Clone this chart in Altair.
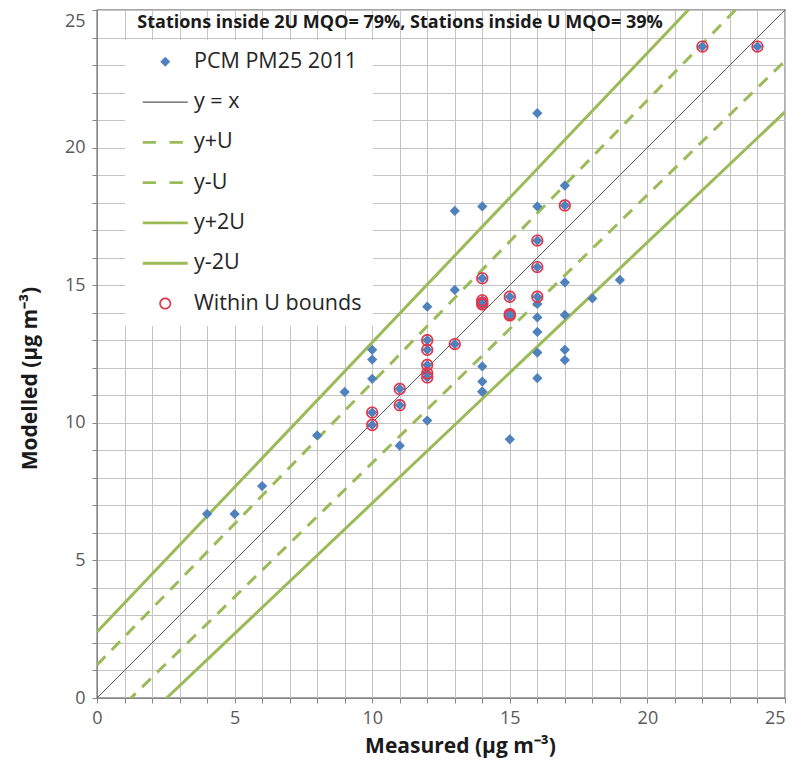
import altair as alt
import pandas as pd

TITLE = "Stations inside 2U MQO= 79%, Stations inside U MQO= 39%"

# All stations (measured, modelled)
pcm_measured = [4, 5, 6, 8, 9,
                10, 10, 10, 10, 10,
                11, 11, 11,
                12, 12, 12, 12, 12, 12, 12,
                13, 13, 13,
                14, 14, 14, 14, 14, 14, 14, 14, 14,
                15, 15, 15, 15,
                16, 16, 16, 16, 16, 16, 16, 16, 16, 16,
                17, 17, 17, 17, 17, 17,
                18, 19, 22, 24]
pcm_modelled = [6.69, 6.69, 7.7, 9.54, 11.12,
                12.65, 12.3, 11.6, 10.37, 9.92,
                11.23, 10.64, 9.17,
                14.22, 13.0, 12.65, 12.1, 11.8, 11.65, 10.08,
                17.7, 14.83, 12.86,
                17.86, 15.25, 14.45, 14.36, 14.3, 12.05, 11.5, 11.13, 11.13,
                14.58, 13.95, 13.9, 9.4,
                21.25, 17.86, 16.62, 15.66, 14.58, 14.32, 13.83, 13.3, 12.55, 11.62,
                18.62, 17.9, 15.1, 13.92, 12.65, 12.28,
                14.52, 15.19, 23.67, 23.67]

# Stations within the U bounds
within_measured = [10, 10, 11, 11, 12, 12, 12, 12, 12, 13, 14, 14, 14, 14,
                   15, 15, 15, 16, 16, 16, 17, 22, 24]
within_modelled = [10.37, 9.92, 11.23, 10.64, 13.0, 12.65, 12.1, 11.8, 11.65, 12.86,
                   15.25, 14.45, 14.36, 14.3, 14.58, 13.95, 13.9, 16.62, 15.66, 14.58,
                   17.9, 23.67, 23.67]

# Reference lines: end points
line_names = ["y = x", "y+U", "y-U", "y+2U", "y-2U"]
line_x_start = [0, 0, 0, 0, 0]
line_y_start = [0, 1.2, -1.2, 2.4, -2.4]
line_x_end = [25, 25, 25, 25, 25]
line_y_end = [25, 26.85, 23.15, 28.7, 21.3]

legend_labels = ["PCM PM25 2011", "y = x", "y+U", "y-U", "y+2U", "y-2U", "Within U bounds"]

BLUE = "#4F81BD"
GREEN = "#9BBB59"
GRAY = "#595959"
RED = "#E3364B"
legend_colors = [BLUE, GRAY, GREEN, GREEN, GREEN, GREEN, RED]
line_colors = [GRAY, GREEN, GREEN, GREEN, GREEN]

# legend / marker symbols (unit = half of sqrt(size))
DIAMOND = "M0,-0.5L0.5,0L0,0.5L-0.5,0Z"
THIN = "M-2.25,-0.06H2.25V0.06H-2.25Z"
THICK = "M-2.25,-0.14H2.25V0.14H-2.25Z"
DASH = "M-2.25,-0.14H-0.92V0.14H-2.25ZM0.43,-0.14H1.76V0.14H0.43Z"
RING = ("M-0.6,0A0.6,0.6,0,1,1,0.6,0A0.6,0.6,0,1,1,-0.6,0Z"
        "M-0.44,0A0.44,0.44,0,1,0,0.44,0A0.44,0.44,0,1,0,-0.44,0Z")
legend_shapes = [DIAMOND, THIN, DASH, DASH, THICK, THICK, RING]

FONT = "Open Sans"

pts = pd.DataFrame({"x": pcm_measured, "y": pcm_modelled, "series": "PCM PM25 2011"})
within = pd.DataFrame({"x": within_measured, "y": within_modelled, "series": "Within U bounds"})
rows = []
for n, x0, y0, x1, y1 in zip(line_names, line_x_start, line_y_start, line_x_end, line_y_end):
    rows.append({"series": n, "x": x0, "y": y0, "order": 0})
    rows.append({"series": n, "x": x1, "y": y1, "order": 1})
lines = pd.DataFrame(rows)

color_scale = alt.Scale(domain=legend_labels, range=legend_colors)
shape_scale = alt.Scale(domain=legend_labels, range=legend_shapes)
line_scale = alt.Scale(domain=line_names, range=line_colors)

xs = alt.Scale(domain=[0, 25], nice=False, zero=False)
ys = alt.Scale(domain=[0, 25], nice=False, zero=False)

x_axis = alt.Axis(values=list(range(26)), labelExpr="datum.value % 5 === 0 ? datum.label : ''",
                  grid=True, gridColor="#C4C4C4", gridWidth=1,
                  domainColor="#868686", tickColor="#868686", tickSize=5,
                  labelFont=FONT, labelFontSize=18, labelColor="#595959", labelPadding=6,
                  labelFlush=False, labelOverlap=False,
                  labelAlign={"condition": {"test": "datum.value == 25", "value": "right"},
                              "value": "center"},
                  title="Measured (µg m⁻³)", titleFont=FONT, titleFontSize=21,
                  titleFontWeight="bold", titleColor="#1a1a1a",
                  titleX=363, titleY=48, titleBaseline="middle", titleAlign="center")
y_axis = alt.Axis(values=list(range(26)), labelExpr="datum.value % 5 === 0 ? datum.label : ''",
                  grid=True, gridColor="#C4C4C4", gridWidth=1,
                  domainColor="#868686", tickColor="#868686", tickSize=5,
                  labelFont=FONT, labelFontSize=18, labelColor="#595959", labelPadding=7,
                  labelFlush=False, labelOverlap=False,
                  labelOffset={"condition": {"test": "datum.value == 25", "value": 11},
                               "value": 0},
                  title="Modelled (µg m⁻³)", titleFont=FONT, titleFontSize=21,
                  titleFontWeight="bold", titleColor="#1a1a1a",
                  titleX=-67, titleY=368, titleBaseline="middle", titleAlign="center", titleAngle=270)

legend = alt.Legend(
    title=None, orient="none", legendX=28, legendY=30,
    fillColor="white", padding=11,
    symbolSize=400, symbolStrokeWidth=0, symbolOffset=18.5, symbolOpacity=1,
    labelOffset=18, labelFont=FONT, labelFontSize=21.5, labelColor="#262626",
    labelLimit=400, rowPadding=17.3,
)

X = alt.X("x:Q", scale=xs, axis=x_axis)
Y = alt.Y("y:Q", scale=ys, axis=y_axis)
STROKE = alt.Stroke("series:N", scale=line_scale, legend=None)
FILL = alt.Fill("series:N", scale=color_scale, legend=legend)
SHAPE = alt.Shape("series:N", scale=shape_scale, legend=legend)

base_lines = alt.Chart(lines)

ref_line = base_lines.transform_filter(alt.datum.series == "y = x").mark_line(
    clip=True, strokeWidth=1).encode(x=X, y=Y, order="order:Q", stroke=STROKE)

dashed = base_lines.transform_filter(
    (alt.datum.series == "y+U") | (alt.datum.series == "y-U")).mark_line(
    clip=True, strokeWidth=3, strokeDash=[12, 9]).encode(x=X, y=Y, order="order:Q", stroke=STROKE)

solid = base_lines.transform_filter(
    (alt.datum.series == "y+2U") | (alt.datum.series == "y-2U")).mark_line(
    clip=True, strokeWidth=3).encode(x=X, y=Y, order="order:Q", stroke=STROKE)

diamonds = alt.Chart(pts).mark_point(filled=True, size=420, opacity=1, strokeWidth=0).encode(
    x=X, y=Y, fill=FILL, shape=SHAPE)

circles = alt.Chart(within).mark_point(filled=True, size=420, opacity=1, strokeWidth=0).encode(
    x=X, y=Y, fill=FILL, shape=SHAPE)

chart = alt.layer(ref_line, dashed, solid, diamonds, circles).properties(
    width=688, height=688,
    title=alt.TitleParams(TITLE, font=FONT, fontSize=18, fontWeight="bold", color="#1a1a1a",
                          anchor="middle", offset=-16, dx=-41, dy=20, baseline="alphabetic"),
    autosize=alt.AutoSizeParams(type="none"),
    padding={"left": 89, "top": 2, "right": 1, "bottom": 60},
    background="white",
).configure_view(stroke="#4d4d4d", strokeWidth=1.3)

chart.save("out.html", embed_options={"renderer": "svg", "actions": False})
